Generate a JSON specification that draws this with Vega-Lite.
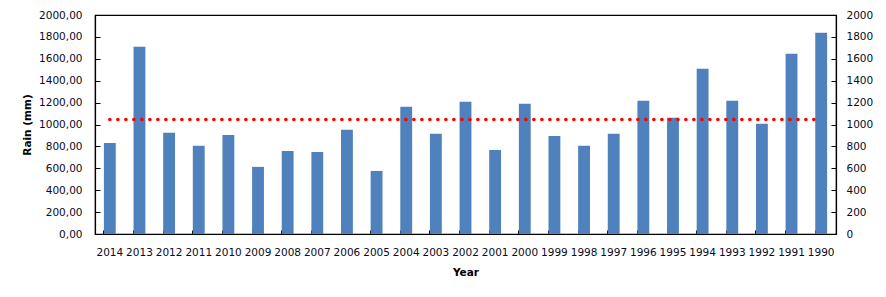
{
  "$schema": "https://vega.github.io/schema/vega-lite/v6.json",
  "autosize": "none",
  "width": 741,
  "height": 219,
  "padding": {"left": 95, "top": 15, "right": 50, "bottom": 63},
  "background": "white",
  "config": {
    "font": "DejaVu Sans",
    "view": {"stroke": "black", "strokeWidth": 1.2},
    "axis": {
      "labelFont": "DejaVu Sans",
      "labelFontSize": 10.5,
      "labelColor": "#0a0a1e",
      "titleFont": "DejaVu Sans",
      "titleFontSize": 10.5,
      "titleFontWeight": "bold",
      "titleColor": "black",
      "domainColor": "black",
      "tickColor": "black",
      "grid": false
    }
  },
  "data": {
    "values": [
      {"Year": "2014", "Rain": 832, "Mean": 1046},
      {"Year": "2013", "Rain": 1710, "Mean": 1046},
      {"Year": "2012", "Rain": 924, "Mean": 1046},
      {"Year": "2011", "Rain": 805, "Mean": 1046},
      {"Year": "2010", "Rain": 905, "Mean": 1046},
      {"Year": "2009", "Rain": 613, "Mean": 1046},
      {"Year": "2008", "Rain": 759, "Mean": 1046},
      {"Year": "2007", "Rain": 750, "Mean": 1046},
      {"Year": "2006", "Rain": 951, "Mean": 1046},
      {"Year": "2005", "Rain": 576, "Mean": 1046},
      {"Year": "2004", "Rain": 1162, "Mean": 1046},
      {"Year": "2003", "Rain": 915, "Mean": 1046},
      {"Year": "2002", "Rain": 1207, "Mean": 1046},
      {"Year": "2001", "Rain": 768, "Mean": 1046},
      {"Year": "2000", "Rain": 1189, "Mean": 1046},
      {"Year": "1999", "Rain": 896, "Mean": 1046},
      {"Year": "1998", "Rain": 805, "Mean": 1046},
      {"Year": "1997", "Rain": 915, "Mean": 1046},
      {"Year": "1996", "Rain": 1216, "Mean": 1046},
      {"Year": "1995", "Rain": 1061, "Mean": 1046},
      {"Year": "1994", "Rain": 1509, "Mean": 1046},
      {"Year": "1993", "Rain": 1216, "Mean": 1046},
      {"Year": "1992", "Rain": 1006, "Mean": 1046},
      {"Year": "1991", "Rain": 1646, "Mean": 1046},
      {"Year": "1990", "Rain": 1838, "Mean": 1046}
    ]
  },
  "encoding": {
    "x": {
      "field": "Year",
      "type": "ordinal",
      "sort": null,
      "title": "Year",
      "scale": {"paddingInner": 0.6, "paddingOuter": 0.3},
      "axis": {"labelAngle": 0, "ticks": true, "bandPosition": 0, "tickSize": -4, "labelPadding": 17, "titlePadding": 10, "domainWidth": 1.2}
    }
  },
  "layer": [
    {
      "mark": {"type": "bar", "color": "#4F81BD"},
      "encoding": {
        "y": {
          "field": "Rain",
          "type": "quantitative",
          "title": "Rain (mm)",
          "scale": {"domain": [0, 2000], "nice": false},
          "axis": {
            "values": [0, 200, 400, 600, 800, 1000, 1200, 1400, 1600, 1800, 2000],
            "labelExpr": "replace(format(datum.value, '.2f'), '.', ',')",
            "tickSize": -5,
            "labelPadding": 18,
            "titlePadding": 6,
            "domainWidth": 1.2
          }
        }
      }
    },
    {
      "mark": {"type": "line", "color": "#FF0000", "strokeWidth": 3.6, "strokeDash": [0.1, 7.9], "strokeCap": "round"},
      "encoding": {
        "y": {
          "field": "Mean",
          "type": "quantitative",
          "scale": {"domain": [0, 2000], "nice": false},
          "axis": {
            "orient": "right",
            "title": null,
            "format": "d",
            "values": [0, 200, 400, 600, 800, 1000, 1200, 1400, 1600, 1800, 2000],
            "tickSize": -5,
            "labelPadding": 15,
            "domainWidth": 1.2
          }
        }
      }
    }
  ],
  "resolve": {"scale": {"y": "independent"}}
}
